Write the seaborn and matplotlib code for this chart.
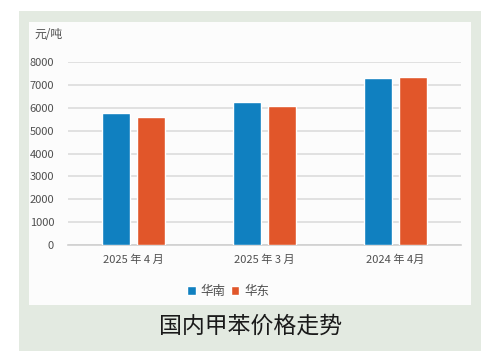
import pandas as pd
import matplotlib.pyplot as plt
import seaborn as sns
from matplotlib.patches import Rectangle

# 数据
months = ["2025 年 4 月", "2025 年 3 月", "2024 年 4月"]
south = [5770, 6260, 7280]   # 华南
east = [5590, 6070, 7360]    # 华东
series = ["华南", "华东"]
colors = ["#1080C0", "#E1562A"]
yticks = [0, 1000, 2000, 3000, 4000, 5000, 6000, 7000, 8000]

df = pd.DataFrame({
    "month": months * 2,
    "price": south + east,
    "region": [series[0]] * len(months) + [series[1]] * len(months),
})

sns.set_style("white")
plt.rcParams["font.family"] = ["Noto Sans CJK SC", "DejaVu Sans"]

W, H = 490, 359
fig = plt.figure(figsize=(W / 100, H / 100), dpi=100)
fig.patch.set_facecolor("white")

# 背景面板（放在坐标轴下面）
fig.patches.append(Rectangle((19 / W, 1 - 351 / H), 462 / W, 340 / H,
                             transform=fig.transFigure, facecolor="#E3EAE1",
                             edgecolor="none", zorder=-2))
fig.patches.append(Rectangle((29 / W, 1 - 305 / H), 442 / W, 283 / H,
                             transform=fig.transFigure, facecolor="#FCFCFC",
                             edgecolor="none", zorder=-1))

ax = fig.add_axes([68 / W, 1 - 245 / H, (461 - 68) / W, (245 - 62) / H])
ax.set_facecolor("none")

sns.barplot(data=df, x="month", y="price", hue="region", palette=colors,
            width=0.53, gap=0.2, ax=ax, saturation=1, zorder=3)

ax.set_xlim(-0.5, 2.5)
ax.set_ylim(0, 8000)
ax.set_yticks(yticks)
ax.yaxis.grid(True, color="#DCDCDC", linewidth=1.2, zorder=0)
ax.set_axisbelow(True)
for s in ["top", "right", "left"]:
    ax.spines[s].set_visible(False)
ax.spines["bottom"].set_color("#D0D0D0")
ax.spines["bottom"].set_linewidth(1.2)
ax.tick_params(axis="both", length=0, labelsize=8, colors="#505050")
ax.tick_params(axis="y", pad=10)
ax.tick_params(axis="x", pad=7)
ax.set_xlabel("")
ax.set_ylabel("")

fig.text(34 / W, 1 - 35 / H, "元/吨", fontsize=8.5, color="#505050",
         ha="left", va="center")

ax.legend(loc="center", bbox_to_anchor=(228 / W, 1 - 291 / H),
          bbox_transform=fig.transFigure, ncol=2, frameon=False,
          fontsize=9, labelcolor="#505050", handlelength=0.7,
          handleheight=0.7, handletextpad=0.4, columnspacing=0.4)

fig.text(250 / W, 1 - 326 / H, "国内甲苯价格走势", fontsize=16.5,
         color="#1A1A1A", ha="center", va="center")

plt.savefig("out.png", dpi=100)
